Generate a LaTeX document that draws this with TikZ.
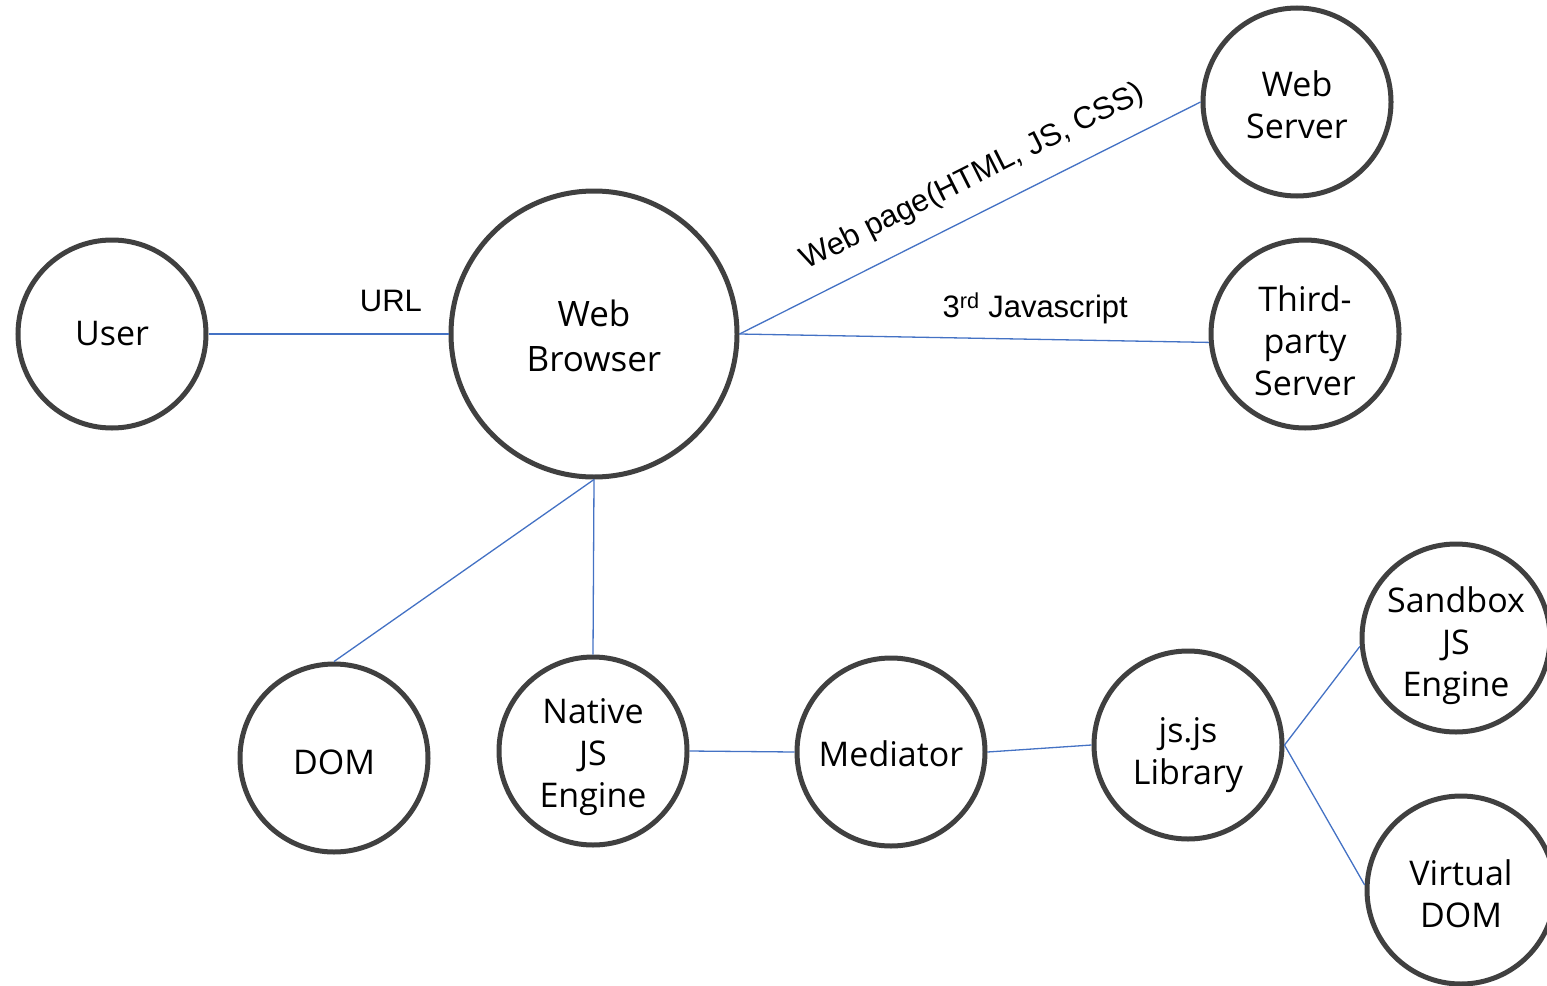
\documentclass[tikz,border=0pt]{standalone}
\usepackage{fontspec}
\setmainfont{Open Sans}
\newfontfamily\labelfont{Liberation Sans}
\definecolor{ringgray}{HTML}{404040}
\definecolor{linkblue}{HTML}{4472C4}
\begin{document}
\begin{tikzpicture}[x=1pt,y=-1pt,
  ring/.style={circle,draw=ringgray,line width=5pt,minimum size=188pt,inner sep=0pt},
  bigring/.style={ring,minimum size=286pt},
  ringtext/.style={align=center,inner sep=0pt,font=\fontsize{34}{42}\selectfont},
  link/.style={draw=linkblue,line width=1.3pt},
  lbl/.style={font=\labelfont\fontsize{31}{34}\selectfont,inner sep=0pt}]
\useasboundingbox (0,0) rectangle (1547,985);
\clip (0,0) rectangle (1547,985);
\node[ring] (user) at (112,334) {};
\node[bigring] (wb) at (594,334) {};
\node[ring] (ws) at (1297,102) {};
\node[ring] (tp) at (1305,334) {};
\node[ring] (dom) at (334,758) {};
\node[ring] (nat) at (593,751) {};
\node[ring] (med) at (891,752) {};
\node[ring] (js) at (1188,745) {};
\node[ring] (sb) at (1456,638) {};
\node[ring] (vd) at (1461,890) {};

\node[ringtext] (tuser) at (user.center) {User};
\node[ringtext,font=\fontsize{35}{45}\selectfont] (twb) at ([yshift=-2pt]wb.center) {Web\\Browser};
\node[ringtext] (tws) at ([yshift=-3pt]ws.center) {Web\\Server};
\node[ringtext] (ttp) at ([yshift=-7pt]tp.center) {Third-\\party\\Server};
\node[ringtext] (tdom) at ([yshift=-4pt]dom.center) {DOM};
\node[ringtext] (tnat) at ([yshift=-6pt]nat.center) {Native\\JS\\Engine};
\node[ringtext] (tmed) at ([yshift=-2pt]med.center) {Mediator};
\node[ringtext] (tjs) at ([yshift=-10pt]js.center) {js.js\\Library};
\node[ringtext] (tsb) at ([yshift=-8pt]sb.center) {Sandbox\\JS\\Engine};
\node[ringtext] (tvd) at ([yshift=-4pt]vd.center) {Virtual\\DOM};

\draw[link] (user.east) -- node[lbl,pos=0.76,above=22pt] {URL} (wb.west);
\draw[link] (wb.east) -- node[lbl,pos=0.54,sloped,above=20pt] {Web page(HTML, JS, CSS)} (ws.west);
\draw[link] (wb.east) -- node[lbl,pos=0.63,above=15pt] {3\textsuperscript{rd} Javascript} (tp.185);
\draw[link] (wb.south) -- (dom.north);
\draw[link] (wb.south) -- (nat.north);
\draw[link] (nat.east) -- (med.west);
\draw[link] (med.east) -- (js.west);
\draw[link] (js.east) -- (sb.185);
\draw[link] (js.east) -- (vd.177);
\end{tikzpicture}
\end{document}
